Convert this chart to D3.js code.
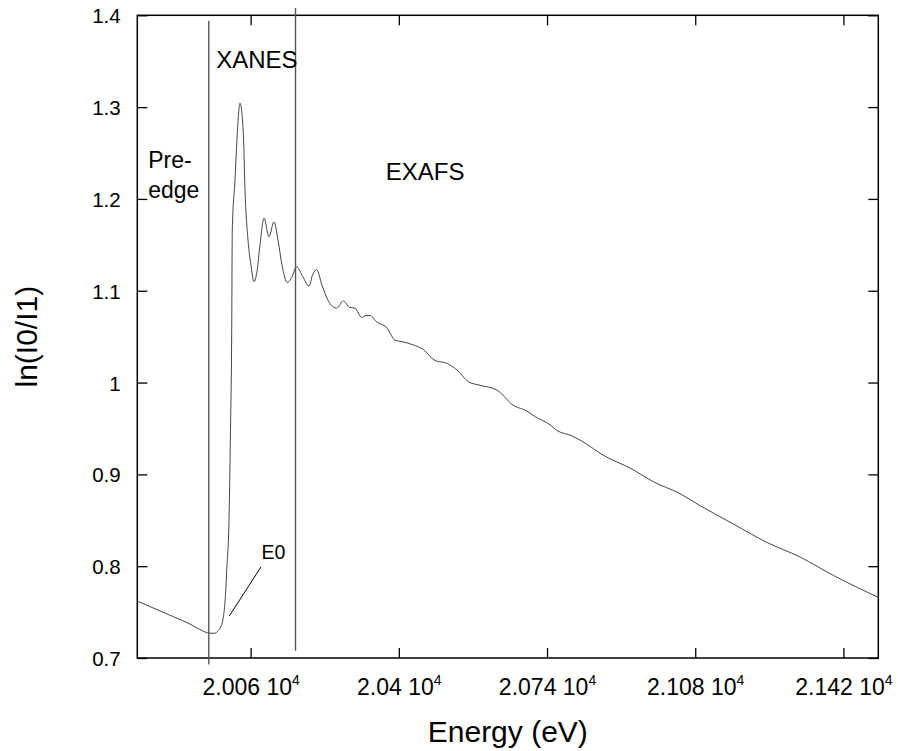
<!DOCTYPE html>
<meta charset="utf-8">
<style>
    body { margin: 0; background: #fff; }
    text { font-family: "Liberation Sans", Arial, Helvetica, sans-serif; fill: #000; }
    .axis path { display: none; }
    .axis line { stroke: #000; stroke-width: 1.3px; }
    .curve { fill: none; stroke: #444; stroke-width: 1px; }
    .region { stroke: #555; stroke-width: 1.4px; }
</style>
<svg width="898" height="751"></svg>
<script src="https://d3js.org/d3.v7.min.js"></script>
<script>

    // spectrum: energy (eV) and ln(I0/I1)
    var energy = [19800, 19882.6, 19920.9, 19943.8, 19966.8, 19978.3, 19985.8, 19992.0, 19997.3, 20002.3,
        20005.1, 20010.4, 20013.8, 20016.6, 20017.9, 20024.1, 20029.4, 20035.6, 20043.2, 20047.1,
        20054.0, 20060.8, 20067.7, 20074.6, 20081.5, 20090.7, 20102.2, 20113.6, 20122.8, 20132.0,
        20144.1, 20152.6, 20165.7, 20177.9, 20193.9, 20201.9, 20211.6, 20223.7, 20242.1, 20257.5,
        20272.6, 20286.4, 20299.4, 20314.8, 20324.7, 20333.9, 20349.2, 20372.2, 20379.7, 20391.2,
        20402.7, 20433.2, 20456.1, 20483.0, 20509.8, 20532.8, 20559.4, 20586.2, 20624.5, 20647.5,
        20655.1, 20693.4, 20712.4, 20746.8, 20762.2, 20796.6, 20831.0, 20861.5, 20937.9, 20983.8,
        21045.1, 21090.9, 21167.3, 21244.0, 21320.4, 21396.8, 21500];
    var absorb = [0.762, 0.745, 0.737, 0.731, 0.727, 0.727, 0.730, 0.7345, 0.7443, 0.7683,
        0.7955, 0.850, 0.948, 1.057, 1.166, 1.2205, 1.2717, 1.3044, 1.2717, 1.2096,
        1.1551, 1.1279, 1.110, 1.121, 1.150, 1.179, 1.159, 1.175, 1.155, 1.128,
        1.109, 1.113, 1.126, 1.117, 1.105, 1.117, 1.123, 1.106, 1.086, 1.081,
        1.089, 1.082, 1.081, 1.071, 1.073, 1.073, 1.066, 1.060, 1.054, 1.046,
        1.045, 1.041, 1.036, 1.024, 1.021, 1.014, 1.001, 0.997, 0.992, 0.982,
        0.978, 0.969, 0.963, 0.954, 0.948, 0.942, 0.933, 0.923, 0.905, 0.892,
        0.879, 0.866, 0.846, 0.826, 0.810, 0.790, 0.766];

    var xTicks = [20060, 20400, 20740, 21080, 21420];
    var yTicks = [0.7, 0.8, 0.9, 1.0, 1.1, 1.2, 1.3, 1.4];

    // region boundaries (energy, top, bottom)
    var boundaryE = [19964, 20163];
    var boundaryTop = [1.394, 1.408];
    var boundaryBottom = [0.693, 0.708];

    var svg = d3.select("svg"),
        pl = 137.3, pr = 878.3, pt = 15.3, pb = 658;

    var x = d3.scaleLinear().domain([19800, 21500]).range([pl, pr]);
    var y = d3.scaleLinear().domain([0.7, 1.4]).range([pb, pt]);

    // frame
    svg.append("rect")
        .attr("x", pl).attr("y", pt)
        .attr("width", pr - pl).attr("height", pb - pt)
        .attr("fill", "none").attr("stroke", "#000").attr("stroke-width", 1.5);

    // axes, ticks pointing inward
    var xAxis = svg.append("g").attr("class", "axis")
        .attr("transform", "translate(0," + pb + ")")
        .call(d3.axisBottom(x).tickValues(xTicks).tickSizeInner(-10).tickSizeOuter(0).tickPadding(20.5)
            .tickFormat(function(d) { return ""; }));
    xAxis.selectAll("text").each(function(d) {
        var t = d3.select(this).style("font-size", "23px");
        t.append("tspan").text(+(d / 1e4).toFixed(4) + " 10");
        t.append("tspan").attr("dy", -9.5).style("font-size", "14px").text("4");
    });

    svg.append("g").attr("class", "axis")
        .attr("transform", "translate(0," + pt + ")")
        .call(d3.axisTop(x).tickValues(xTicks).tickSizeInner(-10).tickSizeOuter(0).tickFormat(""));

    var yAxis = svg.append("g").attr("class", "axis")
        .attr("transform", "translate(" + pl + ",0)")
        .call(d3.axisLeft(y).tickValues(yTicks).tickSizeInner(-10).tickSizeOuter(0).tickPadding(16.6)
            .tickFormat(function(d) { return String(+d.toFixed(1)); }));
    yAxis.selectAll("text").style("font-size", "20.5px").attr("dy", "0.37em");

    svg.append("g").attr("class", "axis")
        .attr("transform", "translate(" + pr + ",0)")
        .call(d3.axisRight(y).tickValues(yTicks).tickSizeInner(-10).tickSizeOuter(0).tickFormat(""));

    // spectrum
    var line = d3.line()
        .x(function(i) { return x(energy[i]); })
        .y(function(i) { return y(absorb[i]); })
        .curve(d3.curveMonotoneX);

    svg.append("path")
        .attr("class", "curve")
        .attr("d", line(d3.range(energy.length)));

    // region boundaries
    svg.selectAll(".region")
        .data(boundaryE)
        .enter().append("line")
        .attr("class", "region")
        .attr("x1", function(d) { return x(d); })
        .attr("x2", function(d) { return x(d); })
        .attr("y1", function(d, i) { return y(boundaryTop[i]); })
        .attr("y2", function(d, i) { return y(boundaryBottom[i]); });

    // region labels
    var labels = [
        {text: "XANES", e: 19981, v: 1.3426, size: 24},
        {text: "Pre-", e: 19825, v: 1.2333, size: 23},
        {text: "edge", e: 19825, v: 1.2015, size: 23},
        {text: "EXAFS", e: 20370, v: 1.2204, size: 24},
        {text: "E0", e: 20085, v: 0.8075, size: 19.5}
    ];
    svg.selectAll(".lbl")
        .data(labels)
        .enter().append("text")
        .attr("class", "lbl")
        .attr("x", function(d) { return x(d.e); })
        .attr("y", function(d) { return y(d.v); })
        .style("font-size", function(d) { return d.size + "px"; })
        .text(function(d) { return d.text; });

    // E0 pointer
    svg.append("line")
        .attr("x1", x(20083.8)).attr("y1", y(0.7992))
        .attr("x2", x(20011.1)).attr("y2", y(0.7458))
        .attr("stroke", "#000").attr("stroke-width", 1);

    // axis titles
    svg.append("text")
        .attr("x", (pl + pr) / 2).attr("y", 741.5)
        .attr("text-anchor", "middle")
        .style("font-size", "30px")
        .text("Energy (eV)");

    svg.append("text")
        .attr("transform", "translate(36.7," + (pt + pb) / 2 + ") rotate(-90)")
        .attr("text-anchor", "middle")
        .style("font-size", "30px")
        .text("ln(I0/I1)");

</script>
